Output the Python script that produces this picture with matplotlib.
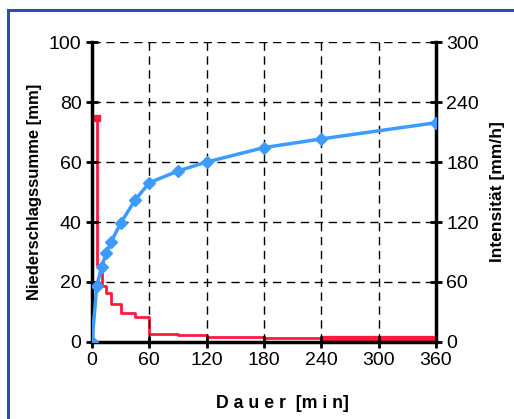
import matplotlib
matplotlib.use("Agg")
import matplotlib.pyplot as plt
from matplotlib.lines import Line2D

plt.rcParams['font.family'] = ['Liberation Sans', 'DejaVu Sans']

# Data
dauer = [0, 5, 10, 15, 20, 30, 45, 60, 90, 120, 180, 240, 360]
summe = [0, 18.6, 25.1, 29.6, 33.4, 39.6, 47.3, 53.1, 57.0, 60.0, 64.8, 67.7, 73.1]
int_x = [5, 5, 10, 15, 20, 30, 45, 60, 90, 120, 180, 240, 360]
intens = [224, 77, 56, 49, 38, 29, 25, 7.7, 6.7, 5.3, 3.7, 2.7, 2.7]
xticks = [0, 60, 120, 180, 240, 300, 360]
yticks_l = [0, 20, 40, 60, 80, 100]
yticks_r = [0, 60, 120, 180, 240, 300]

BLUE = '#3d9bff'
RED = '#ff1a3c'

fig = plt.figure(figsize=(5.14, 4.19), dpi=100)
fig.patch.set_facecolor('white')
# frame lines
fig.add_artist(Line2D([7.5/514, 7.5/514], [0, 1 - 10/419], color='#2a4fa8', lw=2.2, transform=fig.transFigure))
fig.add_artist(Line2D([7.5/514, 1], [1 - 10/419, 1 - 10/419], color='#2a4fa8', lw=2.2, transform=fig.transFigure))

ax = fig.add_axes([92/514, 1 - 342/419, (436 - 92)/514, (342 - 42)/419])
ax2 = ax.twinx()

ax.set_xlim(0, 360)
ax.set_ylim(0, 100)
ax2.set_ylim(0, 300)

ax.set_xticks(xticks)
ax.set_yticks(yticks_l)
ax2.set_yticks(yticks_r)

for a in (ax, ax2):
    a.spines['top'].set_visible(False)
ax.spines['left'].set_linewidth(2.5)
ax.spines['bottom'].set_linewidth(2.5)
ax.spines['right'].set_visible(False)
ax2.spines['left'].set_visible(False)
ax2.spines['bottom'].set_visible(False)
ax2.spines['right'].set_linewidth(2.5)

ax.grid(True, color='black', linestyle=(0, (6, 4)), linewidth=1.0)
ax.set_axisbelow(True)

ax.tick_params(axis='both', direction='inout', length=9, width=2, labelsize=14, pad=3)
ax2.tick_params(axis='y', direction='inout', length=9, width=2, labelsize=14, pad=3)

# series
ax2.plot(int_x, intens, drawstyle='steps-post', color=RED, lw=2, zorder=3)
ax2.plot(int_x[-2:], intens[-2:], color=RED, lw=4.5, solid_capstyle='butt', zorder=3)
ax2.plot([int_x[0]], [intens[0]], marker='s', ms=5, color=RED, zorder=4)
ax.plot(dauer, summe, color=BLUE, lw=2.5, marker='D', ms=6.5, zorder=5)
ax.set_zorder(ax2.get_zorder() + 1)
ax.patch.set_visible(False)

ax.set_ylabel('Niederschlagssumme [mm]', fontsize=12, fontweight='bold', labelpad=5)
ax2.set_ylabel('Intensität [mm/h]', fontsize=12.5, fontweight='bold', labelpad=8)
ax.set_xlabel('D a u e r  [m i n]', fontsize=12.8, fontweight='bold')
ax.xaxis.set_label_coords(0.555, -0.175)

fig.savefig('out.png', dpi=100)
